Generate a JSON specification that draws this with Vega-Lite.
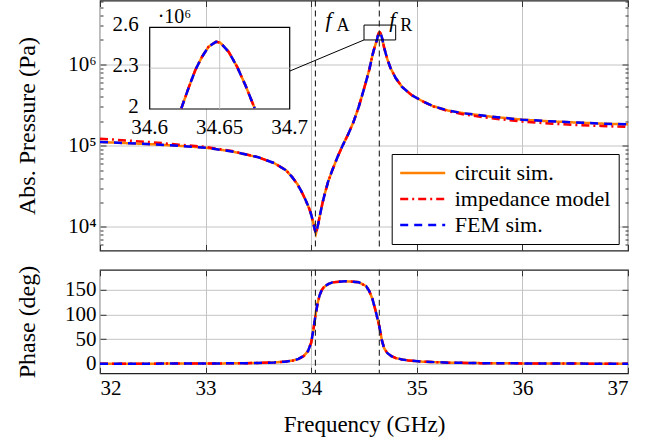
{
  "$schema": "https://vega.github.io/schema/vega-lite/v6.json",
  "padding": {"left": 14, "top": -1.5, "right": 5, "bottom": 0},
  "background": "white",
  "bounds": "flush",
  "config": {
    "font": "Liberation Serif",
    "view": {"stroke": "#222222", "strokeWidth": 1.2},
    "axis": {
      "domain": false,
      "labelFont": "Liberation Serif",
      "labelFontSize": 21,
      "labelColor": "black",
      "titleFont": "Liberation Serif",
      "titleFontSize": 24,
      "titleFontWeight": "normal",
      "titleColor": "black",
      "gridColor": "#c4c4c4",
      "gridWidth": 1,
      "tickColor": "#333333",
      "tickWidth": 1
    }
  },
  "datasets": {
    "pressure": [
      {"f": 32, "c": 111000, "i": 122000, "m": 111000},
      {"f": 32.25, "c": 107500, "i": 116000, "m": 107500},
      {"f": 32.5, "c": 104000, "i": 110000, "m": 104000},
      {"f": 32.75, "c": 99500, "i": 103000, "m": 99500},
      {"f": 33, "c": 94500, "i": 96500, "m": 94500},
      {"f": 33.25, "c": 85000, "i": 86000, "m": 85000},
      {"f": 33.5, "c": 72000, "i": 72000, "m": 72000},
      {"f": 33.65, "c": 61000, "i": 61000, "m": 61000},
      {"f": 33.76, "c": 50000, "i": 50000, "m": 50000},
      {"f": 33.82, "c": 41000, "i": 41000, "m": 41000},
      {"f": 33.87, "c": 33500, "i": 33500, "m": 33500},
      {"f": 33.91, "c": 27000, "i": 27000, "m": 27000},
      {"f": 33.95, "c": 21000, "i": 21000, "m": 21000},
      {"f": 33.98, "c": 17000, "i": 17000, "m": 17000},
      {"f": 34, "c": 14200, "i": 14200, "m": 14200},
      {"f": 34.02, "c": 11200, "i": 11200, "m": 11200},
      {"f": 34.035, "c": 9200, "i": 9200, "m": 9200},
      {"f": 34.045, "c": 8300, "i": 8300, "m": 8300},
      {"f": 34.055, "c": 9300, "i": 9300, "m": 9300},
      {"f": 34.07, "c": 11500, "i": 11500, "m": 11500},
      {"f": 34.09, "c": 15500, "i": 15500, "m": 15500},
      {"f": 34.11, "c": 20500, "i": 20500, "m": 20500},
      {"f": 34.13, "c": 26000, "i": 26000, "m": 26000},
      {"f": 34.16, "c": 36000, "i": 36000, "m": 36000},
      {"f": 34.2, "c": 50000, "i": 50000, "m": 50000},
      {"f": 34.25, "c": 73000, "i": 73000, "m": 73000},
      {"f": 34.3, "c": 102000, "i": 102000, "m": 102000},
      {"f": 34.35, "c": 138000, "i": 138000, "m": 138000},
      {"f": 34.4, "c": 195000, "i": 195000, "m": 195000},
      {"f": 34.45, "c": 300000, "i": 300000, "m": 300000},
      {"f": 34.5, "c": 500000, "i": 500000, "m": 500000},
      {"f": 34.55, "c": 860000, "i": 860000, "m": 860000},
      {"f": 34.58, "c": 1300000, "i": 1300000, "m": 1300000},
      {"f": 34.6, "c": 1620000, "i": 1620000, "m": 1620000},
      {"f": 34.6226, "c": 2005000, "i": 2005000, "m": 2005000},
      {"f": 34.6279, "c": 2159000, "i": 2159000, "m": 2159000},
      {"f": 34.6326, "c": 2286000, "i": 2286000, "m": 2286000},
      {"f": 34.6374, "c": 2384000, "i": 2384000, "m": 2384000},
      {"f": 34.6421, "c": 2458000, "i": 2458000, "m": 2458000},
      {"f": 34.6474, "c": 2494000, "i": 2494000, "m": 2494000},
      {"f": 34.6504, "c": 2487000, "i": 2487000, "m": 2487000},
      {"f": 34.6564, "c": 2420000, "i": 2420000, "m": 2420000},
      {"f": 34.6624, "c": 2311000, "i": 2311000, "m": 2311000},
      {"f": 34.6683, "c": 2176000, "i": 2176000, "m": 2176000},
      {"f": 34.675, "c": 2005000, "i": 2005000, "m": 2005000},
      {"f": 34.69, "c": 1620000, "i": 1620000, "m": 1620000},
      {"f": 34.72, "c": 1170000, "i": 1170000, "m": 1170000},
      {"f": 34.75, "c": 910000, "i": 910000, "m": 910000},
      {"f": 34.8, "c": 680000, "i": 680000, "m": 680000},
      {"f": 34.86, "c": 530000, "i": 530000, "m": 530000},
      {"f": 34.95, "c": 420000, "i": 420000, "m": 420000},
      {"f": 35.05, "c": 355000, "i": 355000, "m": 355000},
      {"f": 35.15, "c": 308000, "i": 306000, "m": 308000},
      {"f": 35.3, "c": 270000, "i": 265000, "m": 270000},
      {"f": 35.45, "c": 250000, "i": 242000, "m": 250000},
      {"f": 35.7, "c": 228000, "i": 218000, "m": 228000},
      {"f": 36, "c": 209000, "i": 198000, "m": 209000},
      {"f": 36.25, "c": 200000, "i": 188000, "m": 200000},
      {"f": 36.5, "c": 193000, "i": 180000, "m": 193000},
      {"f": 36.75, "c": 187000, "i": 175000, "m": 187000},
      {"f": 37, "c": 183000, "i": 170000, "m": 183000}
    ],
    "phase": [
      {"f": 32, "c": 0.3, "i": 0.3, "m": 0.3},
      {"f": 32.5, "c": 0.5, "i": 0.5, "m": 0.5},
      {"f": 33, "c": 0.8, "i": 0.8, "m": 0.8},
      {"f": 33.3, "c": 1.2, "i": 1.2, "m": 1.2},
      {"f": 33.5, "c": 1.8, "i": 1.8, "m": 1.8},
      {"f": 33.65, "c": 3, "i": 3, "m": 3},
      {"f": 33.75, "c": 4.5, "i": 4.5, "m": 4.5},
      {"f": 33.82, "c": 6.5, "i": 6.5, "m": 6.5},
      {"f": 33.88, "c": 10, "i": 10, "m": 10},
      {"f": 33.93, "c": 16, "i": 16, "m": 16},
      {"f": 33.97, "c": 26, "i": 26, "m": 26},
      {"f": 34, "c": 43, "i": 43, "m": 43},
      {"f": 34.02, "c": 68, "i": 68, "m": 68},
      {"f": 34.04, "c": 97, "i": 97, "m": 97},
      {"f": 34.06, "c": 122, "i": 122, "m": 122},
      {"f": 34.08, "c": 139, "i": 139, "m": 139},
      {"f": 34.1, "c": 149, "i": 149, "m": 149},
      {"f": 34.12, "c": 155, "i": 155, "m": 155},
      {"f": 34.16, "c": 161, "i": 161, "m": 161},
      {"f": 34.2, "c": 164.5, "i": 164.5, "m": 164.5},
      {"f": 34.32, "c": 167, "i": 167, "m": 167},
      {"f": 34.45, "c": 165, "i": 165, "m": 165},
      {"f": 34.52, "c": 157, "i": 157, "m": 157},
      {"f": 34.55, "c": 147, "i": 147, "m": 147},
      {"f": 34.58, "c": 131, "i": 131, "m": 131},
      {"f": 34.61, "c": 107, "i": 107, "m": 107},
      {"f": 34.645, "c": 76, "i": 76, "m": 76},
      {"f": 34.67, "c": 47, "i": 47, "m": 47},
      {"f": 34.69, "c": 32, "i": 32, "m": 32},
      {"f": 34.72, "c": 22, "i": 22, "m": 22},
      {"f": 34.76, "c": 15.5, "i": 15.5, "m": 15.5},
      {"f": 34.8, "c": 12, "i": 12, "m": 12},
      {"f": 34.86, "c": 9, "i": 9, "m": 9},
      {"f": 34.92, "c": 7, "i": 7, "m": 7},
      {"f": 35.05, "c": 4.5, "i": 4.5, "m": 4.5},
      {"f": 35.3, "c": 2.5, "i": 2.5, "m": 2.5},
      {"f": 35.6, "c": 1.5, "i": 1.5, "m": 1.5},
      {"f": 36, "c": 1, "i": 1, "m": 1},
      {"f": 36.5, "c": 0.6, "i": 0.6, "m": 0.6},
      {"f": 37, "c": 0.3, "i": 0.3, "m": 0.3}
    ],
    "markers": [
      {"f": 34.04, "sub": "A"},
      {"f": 34.645, "sub": "R"}
    ],
    "insetXTicks": [
      {"t": 34.6}, {"t": 34.65}, {"t": 34.7}
    ],
    "insetYTicks": [
      {"p": 2000000, "label": "2"},
      {"p": 2300000, "label": "2.3"},
      {"p": 2600000, "label": "2.6"}
    ]
  },
  "spacing": 19.3,
  "resolve": {"scale": {"color": "independent", "strokeDash": "independent"}},
  "vconcat": [
    {
      "width": 528,
      "height": 250,
      "layer": [
        {
          "layer": [
            {
              "data": {"name": "pressure"},
              "transform": [{"fold": ["c", "i", "m"], "as": ["series", "p"]}],
              "mark": {"type": "line", "strokeWidth": 2.5},
              "encoding": {
                "x": {
                  "field": "f", "type": "quantitative",
                  "scale": {"domain": [32, 37], "nice": false, "zero": false},
                  "axis": {"orient": "bottom", "values": [32, 33, 34, 35, 36, 37], "labels": false, "tickSize": -6, "grid": true, "title": null}
                },
                "y": {
                  "field": "p", "type": "quantitative",
                  "scale": {"type": "log", "domain": [5130, 6120000], "nice": false},
                  "axis": {
                    "orient": "left",
                    "values": [6000, 7000, 8000, 9000, 10000, 20000, 30000, 40000, 50000, 60000, 70000, 80000, 90000, 100000, 200000, 300000, 400000, 500000, 600000, 700000, 800000, 900000, 1000000, 2000000, 3000000, 4000000, 5000000, 6000000],
                    "labelExpr": "datum.value == 10000 ? '10⁴' : datum.value == 100000 ? '10⁵' : datum.value == 1000000 ? '10⁶' : ''",
                    "labelFontSize": {"condition": {"test": "datum.value == 10000 || datum.value == 100000 || datum.value == 1000000", "value": 21}, "value": 0},
                    "labelOverlap": false,
                    "tickSize": {"condition": {"test": "datum.value == 10000 || datum.value == 100000 || datum.value == 1000000", "value": -6}, "value": -3},
                    "gridOpacity": {"condition": {"test": "datum.value == 10000 || datum.value == 100000 || datum.value == 1000000", "value": 1}, "value": 0},
                    "grid": true,
                    "labelPadding": 10,
                    "title": "Abs. Pressure (Pa)",
                    "titleX": -61,
                    "titleY": 125
                  }
                },
                "color": {
                  "field": "series", "type": "nominal",
                  "scale": {"domain": ["c", "i", "m"], "range": ["#ff8000", "#ff0000", "#0000ff"]},
                  "legend": {
                    "title": null, "orient": "none", "legendX": 291.7, "legendY": 153.5,
                    "fillColor": "white", "strokeColor": "black", "padding": 8,
                    "symbolType": "M-3,0H3", "symbolSize": 225, "symbolStrokeWidth": 2.5,
                    "symbolOffset": 12, "labelOffset": 21, "rowPadding": 4,
                    "labelFontSize": 22, "labelFont": "Liberation Serif", "labelColor": "black",
                    "labelExpr": "datum.label == 'c' ? 'circuit sim.' : datum.label == 'i' ? 'impedance model' : 'FEM sim.'"
                  }
                },
                "strokeDash": {
                  "field": "series", "type": "nominal",
                  "scale": {"domain": ["c", "i", "m"], "range": [[1, 0], [8, 4, 2, 4], [8, 6]]},
                  "legend": {
                    "title": null, "orient": "none", "legendX": 291.7, "legendY": 153.5,
                    "fillColor": "white", "strokeColor": "black", "padding": 8,
                    "symbolType": "M-3,0H3", "symbolSize": 225, "symbolStrokeWidth": 2.5,
                    "symbolOffset": 12, "labelOffset": 21, "rowPadding": 4,
                    "labelFontSize": 22, "labelFont": "Liberation Serif", "labelColor": "black",
                    "labelExpr": "datum.label == 'c' ? 'circuit sim.' : datum.label == 'i' ? 'impedance model' : 'FEM sim.'"
                  }
                }
              }
            },
            {
              "data": {"name": "pressure"},
              "mark": {"type": "line", "opacity": 0},
              "encoding": {
                "x": {"field": "f", "type": "quantitative", "axis": {"orient": "top", "values": [32, 33, 34, 35, 36, 37], "labels": false, "tickSize": -6, "grid": false, "title": null}},
                "y": {"field": "c", "type": "quantitative", "axis": {
                  "orient": "right",
                  "values": [6000, 7000, 8000, 9000, 10000, 20000, 30000, 40000, 50000, 60000, 70000, 80000, 90000, 100000, 200000, 300000, 400000, 500000, 600000, 700000, 800000, 900000, 1000000, 2000000, 3000000, 4000000, 5000000, 6000000],
                  "labels": false, "grid": false, "title": null,
                  "tickSize": {"condition": {"test": "datum.value == 10000 || datum.value == 100000 || datum.value == 1000000", "value": -6}, "value": -3}
                }}
              }
            },
            {
              "data": {"name": "markers"},
              "mark": {"type": "rule", "color": "#222222", "strokeWidth": 1.1, "strokeDash": [6, 4]},
              "encoding": {
                "x": {"field": "f", "type": "quantitative", "axis": null}
              }
            },
            {
              "data": {"name": "markers"},
              "mark": {"type": "text", "text": "f", "fontStyle": "italic", "fontSize": 22, "align": "left", "baseline": "alphabetic", "dx": 10, "color": "black"},
              "encoding": {
                "x": {"field": "f", "type": "quantitative", "axis": null},
                "y": {"datum": 2900000, "type": "quantitative", "axis": null}
              }
            },
            {
              "data": {"name": "markers"},
              "mark": {"type": "text", "fontSize": 18, "align": "left", "baseline": "alphabetic", "dx": 21, "dy": 4, "color": "black"},
              "encoding": {
                "x": {"field": "f", "type": "quantitative", "axis": null},
                "y": {"datum": 2900000, "type": "quantitative", "axis": null},
                "text": {"field": "sub"}
              }
            },
            {
              "data": {"values": [{}]},
              "mark": {"type": "rect", "fillOpacity": 0, "stroke": "black", "strokeWidth": 1},
              "encoding": {
                "x": {"datum": 34.5, "type": "quantitative", "axis": null},
                "x2": {"datum": 34.8},
                "y": {"datum": 2000000, "type": "quantitative", "axis": null},
                "y2": {"datum": 3050000}
              }
            },
            {
              "data": {"values": [{}]},
              "mark": {"type": "rule", "color": "black", "strokeWidth": 1},
              "encoding": {
                "x": {"datum": 33.796, "type": "quantitative", "axis": null},
                "x2": {"datum": 34.5},
                "y": {"datum": 827000, "type": "quantitative", "axis": null},
                "y2": {"datum": 2000000}
              }
            }
          ],
          "resolve": {"axis": {"x": "independent", "y": "independent"}}
        },
        {
          "layer": [
            {
              "data": {"values": [{}]},
              "mark": {"type": "rect", "fill": "white", "stroke": "black", "strokeWidth": 1.2},
              "encoding": {
                "x": {"datum": 34.6, "type": "quantitative", "axis": null,
                  "scale": {"domain": [34.6, 34.7], "range": [49.7, 189.7], "nice": false, "zero": false}},
                "x2": {"datum": 34.7},
                "y": {"datum": 2000000, "type": "quantitative", "axis": null,
                  "scale": {"domain": [2000000, 2600000], "range": [108.5, 26.8], "nice": false, "zero": false}},
                "y2": {"datum": 2600000}
              }
            },
            {
              "data": {"values": [{}]},
              "mark": {"type": "rule", "color": "#c4c4c4", "strokeWidth": 1},
              "encoding": {
                "x": {"datum": 34.65, "type": "quantitative", "axis": null},
                "y": {"datum": 2000000, "type": "quantitative", "axis": null},
                "y2": {"datum": 2600000}
              }
            },
            {
              "data": {"values": [{}]},
              "mark": {"type": "rule", "color": "#c4c4c4", "strokeWidth": 1},
              "encoding": {
                "x": {"datum": 34.6, "type": "quantitative", "axis": null},
                "x2": {"datum": 34.7},
                "y": {"datum": 2300000, "type": "quantitative", "axis": null}
              }
            },
            {
              "data": {"name": "pressure"},
              "transform": [
                {"filter": {"field": "f", "range": [34.62, 34.68]}},
                {"fold": ["c", "i", "m"], "as": ["series", "p"]}
              ],
              "mark": {"type": "line", "strokeWidth": 2.5},
              "encoding": {
                "x": {"field": "f", "type": "quantitative", "axis": null},
                "y": {"field": "p", "type": "quantitative", "axis": null},
                "color": {"field": "series", "type": "nominal", "legend": null},
                "strokeDash": {"field": "series", "type": "nominal", "legend": null}
              }
            },
            {
              "data": {"name": "insetXTicks"},
              "mark": {"type": "text", "fontSize": 21, "align": "center", "baseline": "top", "dy": 8, "color": "black"},
              "encoding": {
                "x": {"field": "t", "type": "quantitative", "axis": null},
                "y": {"datum": 2000000, "type": "quantitative", "axis": null},
                "text": {"field": "t", "type": "nominal"}
              }
            },
            {
              "data": {"name": "insetYTicks"},
              "mark": {"type": "text", "fontSize": 21, "align": "right", "baseline": "middle", "dx": -11, "dy": -2, "color": "black"},
              "encoding": {
                "x": {"datum": 34.6, "type": "quantitative", "axis": null},
                "y": {"field": "p", "type": "quantitative", "axis": null},
                "text": {"field": "label", "type": "nominal"}
              }
            },
            {
              "data": {"values": [{}]},
              "mark": {"type": "text", "text": "·10⁶", "fontSize": 20, "align": "left", "baseline": "alphabetic", "dx": 8, "dy": -4, "color": "black"},
              "encoding": {
                "x": {"datum": 34.6, "type": "quantitative", "axis": null},
                "y": {"datum": 2600000, "type": "quantitative", "axis": null}
              }
            }
          ]
        }
      ],
      "resolve": {"scale": {"x": "independent", "y": "independent"}}
    },
    {
      "width": 528,
      "height": 103.5,
      "layer": [
        {
          "data": {"name": "phase"},
          "transform": [{"fold": ["c", "i", "m"], "as": ["series", "v"]}],
          "mark": {"type": "line", "strokeWidth": 2.5},
          "encoding": {
            "x": {
              "field": "f", "type": "quantitative",
              "scale": {"domain": [32, 37], "nice": false, "zero": false},
              "axis": {"orient": "bottom", "values": [32, 33, 34, 35, 36, 37], "tickSize": -6, "labelPadding": 10, "grid": true, "title": "Frequency (GHz)", "titleFontSize": 23, "titleY": 40, "titleBaseline": "top"}
            },
            "y": {
              "field": "v", "type": "quantitative",
              "scale": {"domain": [-19, 190], "nice": false, "zero": false},
              "axis": {"orient": "left", "values": [0, 50, 100, 150], "tickSize": -6, "labelPadding": 10, "grid": true, "title": "Phase (deg)", "titleX": -61, "titleY": 51.75}
            },
            "color": {
              "field": "series", "type": "nominal",
              "scale": {"domain": ["c", "i", "m"], "range": ["#ff8000", "#ff0000", "#0000ff"]},
              "legend": null
            },
            "strokeDash": {
              "field": "series", "type": "nominal",
              "scale": {"domain": ["c", "i", "m"], "range": [[1, 0], [8, 4, 2, 4], [8, 6]]},
              "legend": null
            }
          }
        },
        {
          "data": {"name": "phase"},
          "mark": {"type": "line", "opacity": 0},
          "encoding": {
            "x": {"field": "f", "type": "quantitative", "axis": {"orient": "top", "values": [32, 33, 34, 35, 36, 37], "labels": false, "tickSize": -6, "grid": false, "title": null}},
            "y": {"field": "c", "type": "quantitative", "axis": {"orient": "right", "values": [0, 50, 100, 150], "labels": false, "tickSize": -6, "grid": false, "title": null}}
          }
        },
        {
          "data": {"name": "markers"},
          "mark": {"type": "rule", "color": "#222222", "strokeWidth": 1.1, "strokeDash": [6, 4]},
          "encoding": {
            "x": {"field": "f", "type": "quantitative", "axis": null}
          }
        }
      ],
      "resolve": {"axis": {"x": "independent", "y": "independent"}}
    }
  ]
}
